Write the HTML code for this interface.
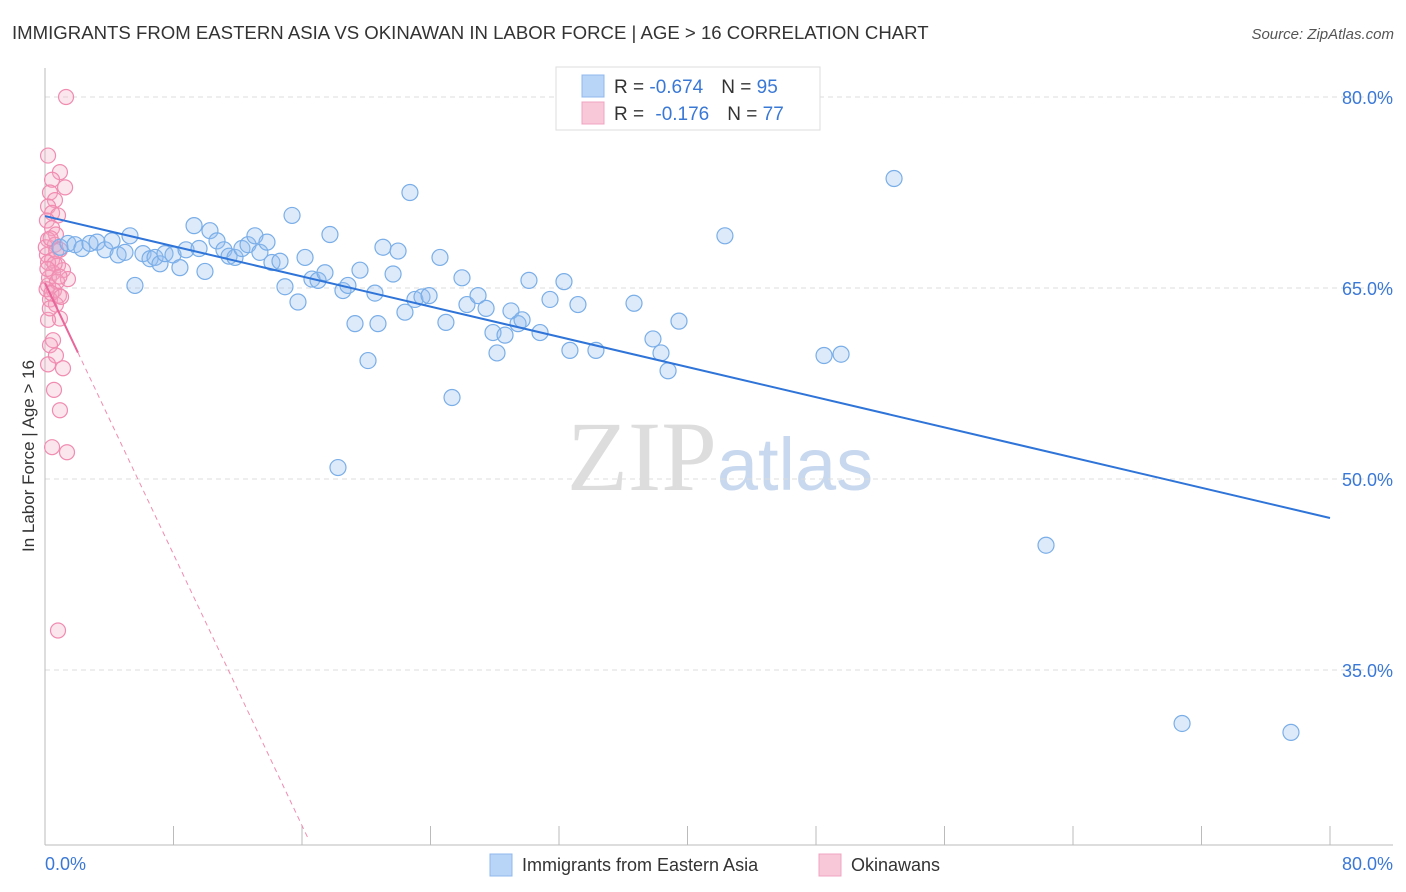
<!DOCTYPE html>
<html><head><meta charset="utf-8"><style>
body{margin:0;background:#fff;font-family:"Liberation Sans",sans-serif;}
</style></head><body>
<svg id="chart" width="1406" height="892" xmlns="http://www.w3.org/2000/svg" style="display:block">
<text x="12" y="39" font-size="18.6" fill="#333">IMMIGRANTS FROM EASTERN ASIA VS OKINAWAN IN LABOR FORCE | AGE &gt; 16 CORRELATION CHART</text>
<text x="1394" y="39" font-size="15" fill="#555" text-anchor="end" font-style="italic">Source: ZipAtlas.com</text>
<text x="720" y="490" font-size="100" fill="#ddd" text-anchor="middle" font-family="Liberation Serif,serif">ZIP<tspan fill="#c8d8ef" font-family="Liberation Sans,sans-serif" font-size="74">atlas</tspan></text>
<g id="grid"></g><g id="axes"></g><g id="pts"></g><g id="trend"></g>
<text transform="translate(34,456) rotate(-90)" font-size="17" fill="#333" text-anchor="middle">In Labor Force | Age &gt; 16</text>
<g>
<rect x="556" y="67" width="264" height="63" fill="#fff" stroke="#ddd"/>
<rect x="582" y="75" width="22" height="22" fill="#b8d4f6" stroke="#8fb8ec"/>
<rect x="582" y="102" width="22" height="22" fill="#f8c8d8" stroke="#f0a4c0"/>
<text x="614" y="93" font-size="19" fill="#333">R = <tspan fill="#3a78d6">-0.674</tspan><tspan dx="18">N = </tspan><tspan fill="#3a78d6">95</tspan></text>
<text x="614" y="120" font-size="19" fill="#333">R = <tspan dx="6" fill="#3a78d6">-0.176</tspan><tspan dx="18">N = </tspan><tspan fill="#3a78d6">77</tspan></text>
</g>
<g>
<rect x="490" y="854" width="22" height="22" fill="#b8d4f6" stroke="#8fb8ec"/>
<text x="522" y="871" font-size="18" fill="#333">Immigrants from Eastern Asia</text>
<rect x="819" y="854" width="22" height="22" fill="#f8c8d8" stroke="#f0a4c0"/>
<text x="851" y="871" font-size="18" fill="#333">Okinawans</text>
</g>
</svg>
<script>
const yTicks=[80,65,50,35];
const xTickLabels=["0.0%","80.0%"];
const blueX=[.93,1.43,1.87,2.30,2.80,3.24,3.74,4.17,4.55,4.98,5.29,5.60,6.10,6.54,6.85,7.16,7.47,7.97,8.40,8.78,9.28,9.59,9.96,10.27,10.71,11.14,11.46,11.83,12.26,12.64,13.07,13.38,13.82,14.13,14.63,14.94,15.38,15.75,16.19,16.62,17.00,17.43,17.74,18.24,18.55,18.86,19.30,19.61,20.11,20.54,20.73,21.04,21.67,21.98,22.41,22.72,23.03,23.47,23.91,24.59,24.96,25.34,25.96,26.27,26.96,27.46,27.89,28.14,28.64,29.01,29.45,29.70,30.13,30.82,31.44,32.31,32.68,33.18,34.30,36.67,37.85,38.35,38.79,39.47,42.33,48.50,49.56,52.86,62.32,70.79,77.57];
const blueY=[68.2,68.5,68.4,68.1,68.5,68.6,68.0,68.7,67.6,67.8,69.1,65.2,67.7,67.3,67.4,66.9,67.7,67.6,66.6,68.0,69.9,68.1,66.3,69.5,68.7,68.0,67.5,67.4,68.1,68.4,69.1,67.8,68.6,67.0,67.1,65.1,70.7,63.9,67.4,65.7,65.6,66.2,69.2,50.9,64.8,65.2,62.2,66.4,59.3,64.6,62.2,68.2,66.1,67.9,63.1,72.5,64.1,64.3,64.4,67.4,62.3,56.4,65.8,63.7,64.4,63.4,61.5,59.9,61.3,63.2,62.2,62.5,65.6,61.5,64.1,65.5,60.1,63.7,60.1,63.8,61.0,59.9,58.5,62.4,69.1,59.7,59.8,73.6,44.8,30.8,30.1];
const pinkX=[1.31,.19,.93,.44,1.25,.31,.62,.19,.44,.81,.12,.44,.68,.19,.62,.93,.12,.44,.81,1.12,1.43,.19,.56,.87,.31,.68,.93,.19,.50,.31,.68,.19,1.12,.56,.93,.44,1.37,.81,.19,.5,.25,.75,.1,.4,1.0,.3,.6,.15,.9,.05,.35,.7];
const pinkY=[80.0,75.4,74.1,73.5,72.9,72.5,71.9,71.4,70.9,70.7,70.3,69.7,69.2,68.8,68.4,68.0,67.6,67.2,66.8,66.4,65.7,65.2,64.8,64.4,64.1,63.7,62.6,62.5,60.9,60.5,59.7,59.0,58.7,57.0,55.4,52.5,52.1,38.1,67.0,66.2,65.8,65.5,64.9,64.6,64.3,63.4,66.9,66.5,65.9,68.2,68.9,67.9];
const blueTrend=[70.65,46.94];
const pinkTrend=[65.39,21.8,16.37,2.05];
const X=v=>45+v*1285/80, Y=v=>97+(80-v)*191/15;
const NS="http://www.w3.org/2000/svg";
function mk(p,t,a){const e=document.createElementNS(NS,t);for(const k in a)e.setAttribute(k,a[k]);document.getElementById(p).appendChild(e);return e;}
yTicks.forEach(t=>{
 const l=mk('grid','line',{x1:45,x2:1393,y1:Y(t),y2:Y(t),stroke:'#ddd','stroke-dasharray':'5,4'});
 
 
 const tx=mk('grid','text',{x:1393,y:Y(t)+7,'font-size':18,fill:'#3a78d6','text-anchor':'end'});tx.textContent=t.toFixed(1)+'%';
 
 
});
mk('axes','line',{x1:45,x2:45,y1:68,y2:845,stroke:'#bbb'});
mk('axes','line',{x1:45,x2:1393,y1:845,y2:845,stroke:'#bbb'});
for(let i=0;i<=10;i++){const x=X(i*8);const t=mk('axes','line',{x1:x,x2:x,y1:826,y2:845,stroke:'#bbb'});
 
 }
[[0,'start'],[80,'end']].forEach((p,i)=>{const t=mk('axes','text',{x:X(p[0])+(i?63:0),y:870,'font-size':18,fill:'#3a78d6','text-anchor':i?'end':'start'});t.textContent=xTickLabels[i];
 
 });
pinkX.forEach((v,i)=>{const c=mk('pts','circle',{cx:X(v),cy:Y(pinkY[i]),r:7.5,fill:'rgba(245,165,195,0.28)',stroke:'#f08cb0','stroke-width':1.2});
 
 });
blueX.forEach((v,i)=>{const c=mk('pts','circle',{cx:X(v),cy:Y(blueY[i]),r:8,fill:'rgba(150,190,240,0.32)',stroke:'#7aaee8','stroke-width':1.2});
 
 });
const bt=mk('trend','line',{x1:X(0),y1:Y(blueTrend[0]),x2:X(80),y2:Y(blueTrend[1]),stroke:'#2f74d8','stroke-width':2});


const py=x=>pinkTrend[0]+(pinkTrend[1]-pinkTrend[0])*x/pinkTrend[2];
const pd=mk('trend','line',{x1:X(pinkTrend[3]),y1:Y(py(pinkTrend[3])),x2:X(pinkTrend[2]),y2:Y(pinkTrend[1]),stroke:'#f08cb0','stroke-width':1,'stroke-dasharray':'5,4'});


const ps=mk('trend','line',{x1:X(0),y1:Y(pinkTrend[0]),x2:X(pinkTrend[3]),y2:Y(py(pinkTrend[3])),stroke:'#e8669a','stroke-width':2});


</script>
</body></html>
